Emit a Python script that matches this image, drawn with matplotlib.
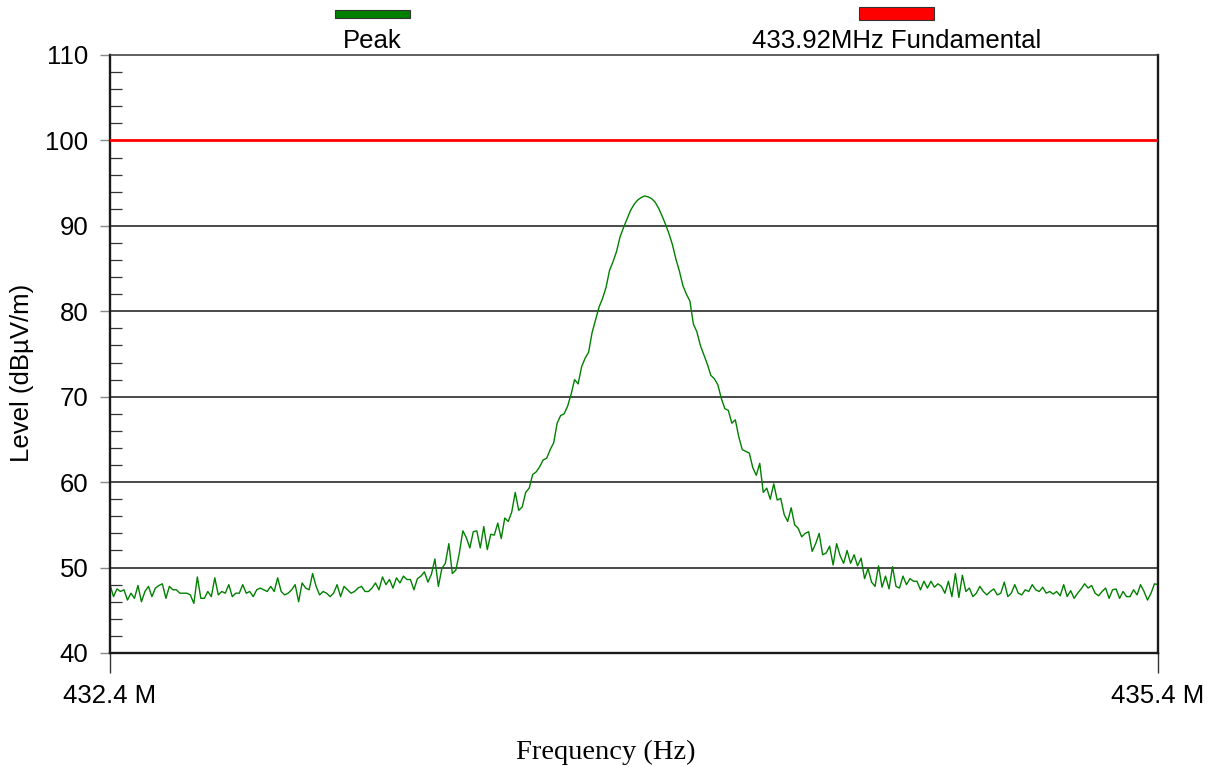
import numpy as np
import matplotlib.pyplot as plt
from matplotlib.patches import Rectangle
from matplotlib.ticker import MultipleLocator

# sweep span and limit line
f_start = 432.4e6
f_stop = 435.4e6
limit_level = 100.0
y_ticks = [40, 50, 60, 70, 80, 90, 100, 110]
x_tick_labels = ['432.4 M', '435.4 M']
series_names = ['Peak', '433.92MHz Fundamental']

# peak trace (dBuV/m), left to right
noise_low = [
    48.0, 46.6, 47.5, 47.2, 47.4, 46.2, 47.0, 46.4, 47.9, 46.0,
    47.2, 47.8, 46.6, 47.6, 47.9, 48.1, 46.4, 47.8, 47.4, 47.4,
    47.0, 47.0, 47.0, 46.8, 45.8, 48.9, 46.4, 46.4, 47.2, 46.6,
    48.8, 46.8, 47.2, 47.0, 48.0, 46.6, 47.0, 47.0, 48.0, 47.0,
    47.2, 46.6, 47.4, 47.6, 47.4, 47.2, 47.8, 47.2, 48.8, 47.2,
    46.8, 47.0, 47.4, 48.0, 46.0, 48.2, 47.6, 47.4, 49.3, 47.8,
    46.8, 47.2, 47.0, 46.6, 47.0, 48.0, 46.6, 47.8, 47.4, 47.0,
    47.2, 47.6, 47.8, 47.2, 47.2, 47.6, 48.2, 47.4, 48.9, 48.0,
    48.6, 47.6, 48.8,
]
rise = [
    48.2, 49.0, 48.6, 48.6, 47.4, 48.7, 49.0, 49.5, 48.3, 49.2,
    51.0, 47.8, 49.9, 50.5, 52.8, 49.3, 49.7, 51.7, 54.3, 53.5,
    52.3, 54.2, 54.3, 52.3, 54.8, 52.1, 53.9, 53.8, 55.2, 53.4,
    55.8, 55.4, 56.5, 58.8, 56.7, 57.1, 58.8, 59.3, 60.9, 61.2,
    61.8, 62.6, 62.8, 63.8, 64.6, 66.9, 67.8, 68.0, 68.9, 70.3,
    72.0, 71.5, 73.5, 74.5, 75.2, 77.5, 79.0, 80.5, 81.5, 82.8,
    84.8, 85.8, 87.0, 88.7, 89.8, 90.8, 91.8, 92.5, 93.0, 93.3,
    93.5, 93.4,
]
fall = [
    93.2, 92.8, 92.1, 91.2, 90.2, 89.1, 87.8, 86.1, 84.7, 83.0,
    82.0, 81.2, 78.5, 77.6, 76.0, 74.9, 73.8, 72.5, 72.1, 71.4,
    69.8, 68.6, 68.4, 66.9, 67.3, 65.3, 63.8, 63.6, 63.4, 61.7,
    60.8, 62.2, 58.8, 59.3, 58.0, 59.8, 57.9, 58.1, 56.2, 55.4,
    57.0, 55.0, 54.6, 53.6, 54.0, 54.2, 51.9, 52.8, 54.0, 51.5,
    51.7, 52.5, 50.3, 52.8, 51.4, 50.5, 52.0, 50.5, 51.5, 50.2,
    51.1, 48.7, 49.9,
]
noise_high = [
    48.3, 47.8, 50.2, 47.7, 49.0, 47.5, 50.1, 47.8, 47.6, 49.0,
    48.0, 48.7, 48.4, 48.4, 47.4, 48.4, 47.6, 48.4, 47.7, 48.1,
    47.8, 47.0, 48.4, 46.6, 49.3, 46.5, 49.1, 47.2, 47.6, 46.6,
    47.0, 47.8, 47.2, 46.8, 47.2, 47.5, 46.8, 47.0, 48.3, 46.6,
    47.0, 48.0, 47.0, 46.8, 47.4, 47.2, 48.0, 47.4, 47.2, 47.7,
    47.0, 47.2, 46.9, 47.2, 46.7, 48.0, 46.6, 47.3, 46.4, 47.0,
    47.5, 48.1, 47.6, 47.9, 47.0, 46.7, 47.2, 47.6, 46.4, 47.4,
    47.5, 46.4, 47.2, 46.6, 46.6, 47.4, 46.8, 48.0, 47.2, 46.2,
    47.0, 48.1, 48.0,
]

level = np.array(noise_low + rise + fall + noise_high)
freq = np.linspace(f_start, f_stop, len(level))

W, H = 1216, 767
fig = plt.figure(figsize=(W / 100, H / 100), dpi=100)
ax = fig.add_axes([110 / W, 1 - 653 / H, 1048 / W, 598 / H])

sans = 'Liberation Sans'
fs = 18.5

for y in y_ticks[1:-2]:
    ax.axhline(y, color='#2a2a2a', lw=1.2, zorder=1)
ax.axhline(limit_level, color='#ff0000', lw=2.0, zorder=3)
ax.plot(freq, level, color='#008000', lw=1.0, zorder=2)

ax.set_xlim(f_start, f_stop)
ax.set_ylim(y_ticks[0], y_ticks[-1])
ax.set_xticks([f_start, f_stop])
ax.set_xticklabels(x_tick_labels, fontfamily=sans, fontsize=fs)
ax.set_yticks(y_ticks)
ax.set_yticklabels([str(v) for v in y_ticks], fontfamily=sans, fontsize=fs)
ax.yaxis.set_minor_locator(MultipleLocator(2))
ax.tick_params(axis='y', which='major', direction='out', length=7.5,
               width=1.0, color='#888888', pad=8)
ax.tick_params(axis='y', which='minor', direction='in', length=8.5,
               width=0.9, color='#333333')
ax.tick_params(axis='x', which='major', direction='out', length=14.5,
               width=1.0, color='#333333', pad=8)

for side in ['left', 'right', 'bottom']:
    ax.spines[side].set_linewidth(1.7)
    ax.spines[side].set_color('#1a1a1a')
ax.spines['top'].set_linewidth(1.1)
ax.spines['top'].set_color('#333333')

fig.text(22 / W, 1 - 373 / H, 'Level (dBµV/m)', rotation=90,
         ha='center', va='center', fontfamily=sans, fontsize=fs)
fig.text(606 / W, 1 - 752 / H, 'Frequency (Hz)', ha='center', va='center',
         fontfamily='Liberation Serif', fontsize=20.5)

# legend across the top
fig.add_artist(Rectangle((335 / W, 1 - 18 / H), 75 / W, 8 / H,
                         transform=fig.transFigure, facecolor='#008000',
                         edgecolor='#333333', lw=0.8))
fig.add_artist(Rectangle((859 / W, 1 - 20 / H), 75 / W, 13 / H,
                         transform=fig.transFigure, facecolor='#ff0000',
                         edgecolor='#333333', lw=0.8))
fig.text(372 / W, 1 - 41 / H, series_names[0], ha='center', va='center',
         fontfamily=sans, fontsize=fs)
fig.text(897 / W, 1 - 41 / H, series_names[1], ha='center', va='center',
         fontfamily=sans, fontsize=fs)

fig.savefig('out.png', dpi=100)
